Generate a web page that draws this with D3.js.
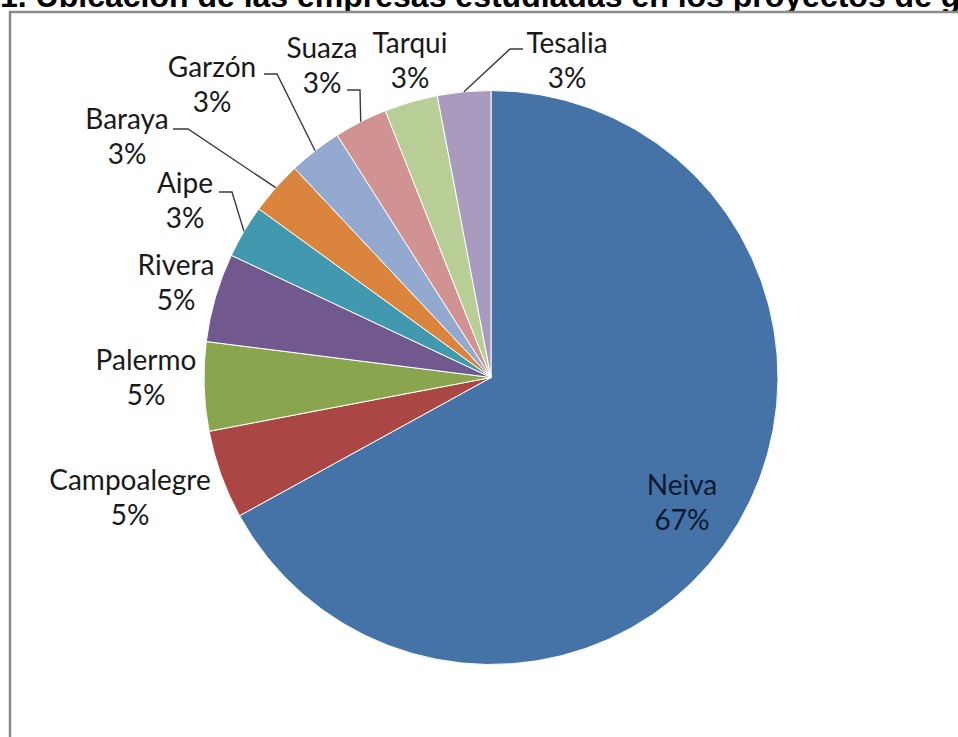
<!DOCTYPE html>
<html>
<head>
<meta charset="utf-8">
<script src="https://cdn.jsdelivr.net/npm/d3@7"></script>
<style>
  html, body { margin: 0; padding: 0; background: #fff; overflow: hidden; }
  svg { display: block; }
</style>
</head>
<body>
<svg id="chart" width="958" height="737"></svg>
<script>
// Title of the figure (runs past the page edge)
const titulo = "1. Ubicación de las empresas estudiadas en los proyectos de grado";

// Share of studied companies per municipality (percent)
const municipios = ["Neiva", "Campoalegre", "Palermo", "Rivera", "Aipe", "Baraya", "Garzón", "Suaza", "Tarqui", "Tesalia"];
const porcentajes = [67, 5, 5, 5, 3, 3, 3, 3, 3, 3];
const colores = ["#4572A7", "#AA4643", "#89A54E", "#71588F", "#4198AF", "#DB843D", "#93A9CF", "#D19392", "#B9CD96", "#A99BBD"];

// Label placement: centre x, first-line baseline y, optional leader elbow and end x
const ubicacionEtiquetas = {
  "Neiva":       { x: 682, y: 495 },
  "Campoalegre": { x: 130, y: 490 },
  "Palermo":     { x: 146, y: 370 },
  "Rivera":      { x: 176, y: 275 },
  "Aipe":        { x: 185, y: 193, elbow: [232, 192], end: 219 },
  "Baraya":      { x: 127, y: 129, elbow: [188, 129], end: 173 },
  "Garzón":      { x: 212, y: 77,  elbow: [277, 74],  end: 264 },
  "Suaza":       { x: 322, y: 58,  elbow: [360, 90],  end: 347 },
  "Tarqui":      { x: 410, y: 53 },
  "Tesalia":     { x: 567, y: 53,  elbow: [510, 49],  end: 523 }
};

const svg = d3.select("#chart");

// Title, partly hidden behind the chart frame
svg.append("text")
  .attr("x", 0)
  .attr("y", 7)
  .attr("font-family", "'Liberation Sans', Arial, sans-serif")
  .attr("font-weight", "bold")
  .attr("font-size", 32)
  .attr("fill", "#000")
  .text(titulo);

// Chart frame
svg.append("rect")
  .attr("x", 10)
  .attr("y", 12)
  .attr("width", 1000)
  .attr("height", 800)
  .attr("fill", "#fff")
  .attr("stroke", "#8a8a8a")
  .attr("stroke-width", 2.5);

const cx = 491, cy = 377.5, radio = 287;

const datos = municipios.map((m, i) => ({ nombre: m, valor: porcentajes[i], color: colores[i] }));

const pie = d3.pie().value(d => d.valor).sort(null);
const arcos = pie(datos);

const arco = d3.arc().innerRadius(0).outerRadius(radio);
const arcoBorde = d3.arc().innerRadius(radio).outerRadius(radio);

const g = svg.append("g").attr("transform", `translate(${cx},${cy})`);

g.selectAll("path.slice")
  .data(arcos)
  .join("path")
  .attr("class", "slice")
  .attr("d", arco)
  .attr("fill", d => d.data.color)
  .attr("stroke", "#fff")
  .attr("stroke-width", 1);

// Leader lines from the slice edge to the label
const lineas = arcos.filter(d => ubicacionEtiquetas[d.data.nombre].elbow);
svg.selectAll("polyline.leader")
  .data(lineas)
  .join("polyline")
  .attr("class", "leader")
  .attr("points", d => {
    const l = ubicacionEtiquetas[d.data.nombre];
    const p = arcoBorde.centroid(d);
    return [[p[0] + cx, p[1] + cy], l.elbow, [l.end, l.elbow[1]]].map(q => q.join(",")).join(" ");
  })
  .attr("fill", "none")
  .attr("stroke", "#3a3a3a")
  .attr("stroke-width", 1.4);

// Category and percentage labels
const etiquetas = svg.selectAll("text.etiqueta")
  .data(arcos)
  .join("text")
  .attr("class", "etiqueta")
  .attr("text-anchor", "middle")
  .attr("font-family", "Lato, 'Open Sans', sans-serif")
  .attr("font-size", 28)
  .attr("fill", d => d.data.nombre === "Neiva" ? "#0e1a30" : "#1a1a1a");

etiquetas.append("tspan")
  .attr("x", d => ubicacionEtiquetas[d.data.nombre].x)
  .attr("y", d => ubicacionEtiquetas[d.data.nombre].y)
  .text(d => d.data.nombre);

etiquetas.append("tspan")
  .attr("x", d => ubicacionEtiquetas[d.data.nombre].x)
  .attr("y", d => ubicacionEtiquetas[d.data.nombre].y + 35)
  .text(d => d.data.valor + "%");
</script>
</body>
</html>
